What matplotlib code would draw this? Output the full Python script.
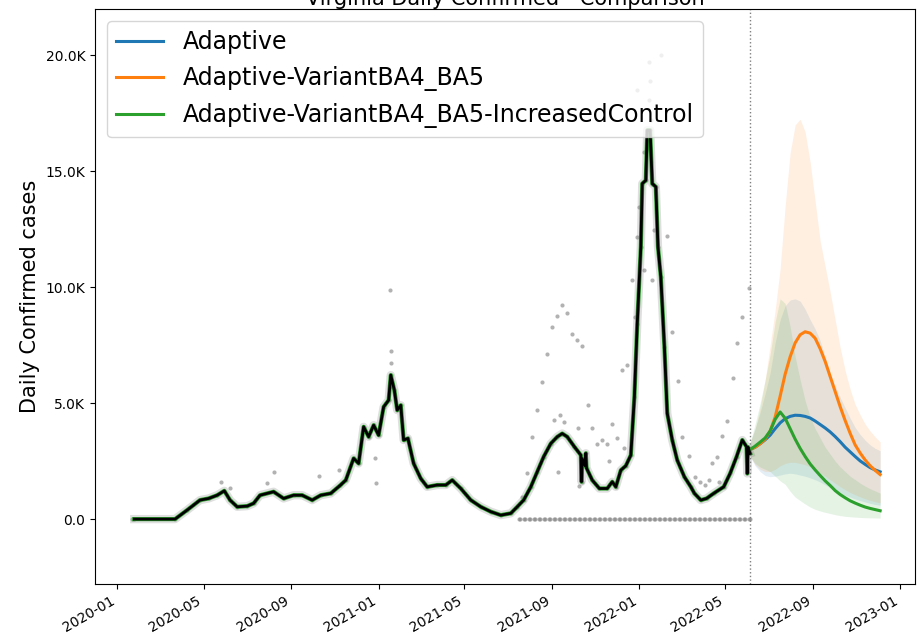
import pandas as pd
import numpy as np
import matplotlib
matplotlib.use("Agg")
import matplotlib.pyplot as plt
import matplotlib.dates as mdates
from matplotlib.ticker import FuncFormatter

# smoothed daily confirmed cases (black line)
hist_dates = ["2020-01-25","2020-03-22","2020-04-08","2020-04-26","2020-05-08","2020-05-20","2020-05-30",
              "2020-06-07","2020-06-17","2020-07-01","2020-07-10","2020-07-19","2020-08-07","2020-08-21",
              "2020-09-04","2020-09-16","2020-09-30","2020-10-12","2020-10-26","2020-11-08","2020-11-16",
              "2020-11-27","2020-12-04","2020-12-11","2020-12-18","2020-12-25","2021-01-01","2021-01-08",
              "2021-01-15","2021-01-18","2021-01-23","2021-01-27","2021-02-01","2021-02-05","2021-02-11",
              "2021-02-19","2021-03-01","2021-03-10","2021-03-24","2021-04-05","2021-04-14","2021-04-26",
              "2021-05-10","2021-05-24","2021-06-07","2021-06-21","2021-07-05","2021-07-14","2021-07-23",
              "2021-08-02","2021-08-11","2021-08-20","2021-08-30","2021-09-08","2021-09-15","2021-09-22",
              "2021-10-02","2021-10-11","2021-10-12","2021-10-13","2021-10-17","2021-10-18","2021-10-19",
              "2021-10-27","2021-11-06","2021-11-17","2021-11-24","2021-11-29","2021-12-06","2021-12-13",
              "2021-12-20","2021-12-25","2021-12-29","2022-01-03","2022-01-05","2022-01-10","2022-01-12",
              "2022-01-16","2022-01-19","2022-01-24","2022-01-27","2022-01-31","2022-02-05","2022-02-09",
              "2022-02-16","2022-02-23","2022-03-05","2022-03-14","2022-03-19","2022-03-28","2022-04-05",
              "2022-04-15","2022-04-29","2022-05-08","2022-05-17","2022-05-25","2022-05-31","2022-06-01",
              "2022-06-02","2022-06-05"]
hist_vals = [0,0,390,820,890,1030,1220,
             820,530,560,680,1030,1180,890,
             1030,1030,820,1030,1110,1450,1680,
             2620,2400,3980,3550,4050,3620,4840,
             5130,6210,5560,4700,4910,3410,3480,
             2400,1750,1390,1470,1470,1680,1320,
             820,530,320,170,250,530,820,
             1390,2040,2690,3260,3550,3690,3550,
             3120,2760,1610,2600,2300,2840,2200,
             1680,1320,1320,1610,1390,2110,2300,
             2760,5270,8430,11740,14470,14610,16770,
             16770,14470,14330,11740,10440,7430,4560,
             3410,2540,1820,1390,1110,820,890,
             1110,1390,1970,2690,3410,3120,1970,
             3100,2830]

# raw reported values that stand out from the curve (gray dots)
raw_dates = ["2020-01-22","2020-05-26","2020-06-07","2020-07-29","2020-08-07","2020-10-09","2020-11-06",
             "2020-12-27","2020-12-28","2021-01-17","2021-01-18","2021-01-19","2021-07-21","2021-07-28",
             "2021-08-04","2021-08-10","2021-08-18","2021-08-25","2021-08-31","2021-09-03","2021-09-08",
             "2021-09-09","2021-09-12","2021-09-15","2021-09-17","2021-09-22","2021-09-28","2021-10-06",
             "2021-10-07","2021-10-08","2021-10-13","2021-10-21","2021-10-26","2021-11-03","2021-11-10",
             "2021-11-16","2021-11-19","2021-11-24","2021-12-01","2021-12-08","2021-12-10","2021-12-15",
             "2021-12-22","2021-12-26","2021-12-28","2021-12-29","2021-12-31","2022-01-07","2022-01-08",
             "2022-01-14","2022-01-15","2022-01-16","2022-01-17","2022-01-19","2022-01-22","2022-01-31",
             "2022-02-09","2022-02-16","2022-02-24","2022-03-02","2022-03-12","2022-03-20","2022-03-27",
             "2022-04-03","2022-04-08","2022-04-13","2022-04-19","2022-04-22","2022-04-27","2022-05-04",
             "2022-05-12","2022-05-18","2022-05-25","2022-06-04"]
raw_vals = [0,1610,1330,1540,2040,1850,2110,
            2620,1570,9870,7240,6750,960,1970,
            3550,4700,5920,7100,8290,4270,8750,
            2010,4480,9220,4190,8910,7970,7740,
            3910,1420,7460,4940,3950,3260,3430,
            3220,2500,4120,3480,6450,3050,6640,
            10300,8720,12170,18490,13460,10730,15830,
            18060,19700,18900,17200,10300,12460,20000,
            12190,8090,5940,3560,2720,1820,1600,
            1450,1700,2430,2690,1600,3580,4220,
            6090,7600,8720,9970]

# days with nothing reported (weekends from mid 2021)
zero_start, zero_end = "2021-07-17", "2022-06-05"

# forecast, weekly
fc_dates = pd.date_range("2022-06-05", "2022-12-04", freq="7D")
adaptive = [3000,3100,3250,3420,3620,3900,4150,4330,4430,4480,4470,4430,4360,4230,
            4080,3930,3760,3560,3340,3100,2900,2700,2510,2360,2220,2120,2040]
adaptive_lo = [2700,2300,2050,1880,1830,1850,1900,1950,1980,1950,1900,1850,1780,1700,
               1600,1480,1350,1230,1120,1030,950,870,800,740,680,630,600]
adaptive_hi = [3300,3900,4600,5400,6300,7600,8600,9200,9450,9500,9400,9050,8600,8200,
               7700,7000,6300,5750,5250,4800,4350,3950,3650,3400,3200,3050,2950]
ba45 = [3000,3100,3250,3450,3800,4400,5300,6250,7000,7600,7950,8080,8020,7800,
        7350,6800,6150,5500,4850,4250,3700,3200,2850,2550,2300,2100,1920]
ba45_lo = [2700,2350,2150,2050,2050,2150,2300,2400,2450,2450,2400,2350,2250,2150,
           2000,1850,1700,1550,1400,1270,1150,1050,960,880,810,750,700]
ba45_hi = [3300,3900,4800,6000,7500,9000,10800,13500,15800,17000,17250,16700,15400,13700,
           12000,10900,9800,8600,7400,6400,5600,4950,4500,4100,3800,3550,3330]
ctrl = [3000,3150,3320,3500,3800,4300,4620,4350,3900,3450,3050,2700,2380,2120,
        1880,1650,1450,1230,1060,920,790,690,600,520,460,410,360]
ctrl_lo = [2700,2400,2250,2150,2050,1850,1650,1500,1200,950,800,650,520,420,
           350,290,240,190,150,120,100,85,70,60,55,50,45]
ctrl_hi = [3300,4100,5000,6000,7100,8500,9500,9300,8300,7000,6000,5100,4400,3900,
           3500,3100,2800,2500,2250,2050,1850,1700,1550,1420,1310,1210,1120]

names = ["Adaptive", "Adaptive-VariantBA4_BA5", "Adaptive-VariantBA4_BA5-IncreasedControl"]
colors = ["tab:blue", "tab:orange", "tab:green"]
forecast_start = "2022-06-05"

hist_d = pd.to_datetime(hist_dates)
raw_d = pd.to_datetime(raw_dates)
zero_d = pd.date_range(zero_start, zero_end, freq="W-SAT").append(
    pd.date_range(zero_start, zero_end, freq="W-SUN"))

fig = plt.figure(figsize=(9.17, 6.42), dpi=100)
ax = fig.add_axes([0.1036, 0.0903, 0.8944, 0.8957])

# observed data
ax.plot(hist_d, hist_vals, color="gray", lw=6, alpha=0.25, zorder=1)
ax.scatter(hist_d, hist_vals, s=9, color="gray", alpha=0.6, lw=0, zorder=1)
ax.scatter(raw_d, raw_vals, s=9, color="gray", alpha=0.6, lw=0, zorder=1)
ax.scatter(zero_d, np.zeros(len(zero_d)), s=9, color="gray", alpha=0.6, lw=0, zorder=1)

# fitted history (green on top of the others) + forecasts
series = [(adaptive, adaptive_lo, adaptive_hi), (ba45, ba45_lo, ba45_hi), (ctrl, ctrl_lo, ctrl_hi)]
for (mid, lo, hi), name, c in zip(series, names, colors):
    ax.fill_between(fc_dates, lo, hi, color=c, alpha=0.12, lw=0)
    ax.plot(fc_dates, mid, color=c, lw=2.2, label=name, zorder=3)
ax.plot(hist_d, hist_vals, color="tab:green", lw=3, zorder=2)
ax.plot(hist_d, hist_vals, color="black", lw=2, zorder=4)

ax.axvline(pd.Timestamp(forecast_start), color="gray", ls=":", lw=1)

ax.set_xlim(pd.Timestamp("2019-12-01"), pd.Timestamp("2023-01-22"))
ax.set_ylim(-2800, 22000)
ax.set_yticks([0, 5000, 10000, 15000, 20000])
ax.yaxis.set_major_formatter(FuncFormatter(lambda v, p: "0.0" if v == 0 else f"{v/1000:.1f}K"))
ax.xaxis.set_major_locator(mdates.MonthLocator(bymonth=[1, 5, 9]))
ax.xaxis.set_major_formatter(mdates.DateFormatter("%Y-%m"))
for lab in ax.get_xticklabels():
    lab.set_rotation(30)
    lab.set_ha("right")
ax.tick_params(labelsize=10)
ax.set_ylabel("Daily Confirmed cases", fontsize=15)
ax.set_title("Virginia Daily Confirmed - Comparison", fontsize=15, pad=3)
ax.legend(loc="upper left", fontsize=17)

plt.savefig("out.png", dpi=100)
